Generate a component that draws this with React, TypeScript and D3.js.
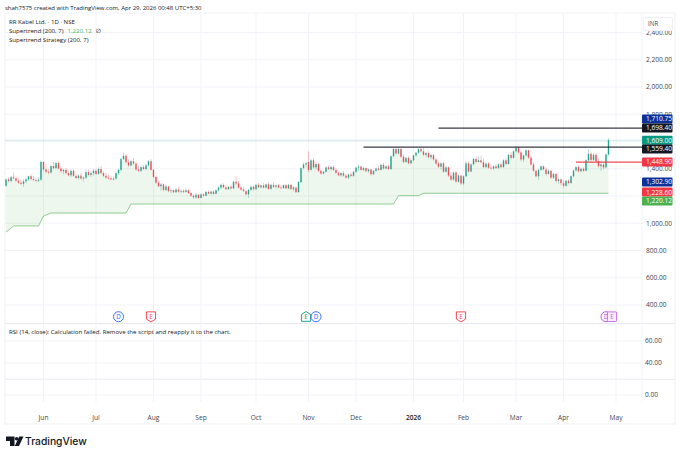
import React from "react";
import * as d3 from "d3";

type Bar = [number, number, number, number]; // open, high, low, close

const may: Bar[] = [
  [1275, 1330, 1265, 1322], [1322, 1340, 1300, 1310], [1310, 1345, 1300, 1338], [1338, 1372, 1325, 1330],
  [1330, 1348, 1305, 1312], [1312, 1330, 1290, 1298], [1298, 1320, 1280, 1290], [1290, 1322, 1268, 1308],
  [1308, 1335, 1295, 1322], [1322, 1350, 1310, 1345], [1345, 1360, 1315, 1325], [1325, 1350, 1310, 1318],
  [1318, 1335, 1300, 1312], [1312, 1340, 1300, 1320], [1320, 1458, 1310, 1450],
];
const jun: Bar[] = [
  [1450, 1455, 1385, 1395], [1395, 1430, 1365, 1378], [1378, 1400, 1360, 1372], [1372, 1425, 1365, 1420],
  [1420, 1450, 1395, 1405], [1405, 1450, 1400, 1442], [1442, 1455, 1395, 1402], [1402, 1420, 1370, 1382],
  [1382, 1400, 1360, 1392], [1392, 1405, 1360, 1368], [1368, 1385, 1345, 1352], [1352, 1395, 1340, 1385],
  [1385, 1395, 1340, 1348], [1348, 1365, 1325, 1332], [1332, 1360, 1320, 1350], [1350, 1370, 1320, 1328],
  [1328, 1345, 1305, 1335], [1335, 1395, 1325, 1375], [1375, 1395, 1345, 1355], [1355, 1385, 1340, 1368],
  [1368, 1400, 1350, 1385],
];
const jul: Bar[] = [
  [1385, 1400, 1355, 1362], [1362, 1410, 1355, 1398], [1398, 1420, 1360, 1368], [1368, 1380, 1340, 1348],
  [1348, 1370, 1325, 1335], [1335, 1355, 1320, 1330], [1330, 1350, 1315, 1322], [1322, 1345, 1312, 1328],
  [1328, 1375, 1320, 1368], [1368, 1400, 1355, 1392], [1392, 1480, 1385, 1472], [1472, 1518, 1465, 1495],
  [1495, 1510, 1440, 1448], [1448, 1470, 1415, 1425], [1425, 1465, 1415, 1455], [1455, 1480, 1430, 1438],
  [1438, 1455, 1385, 1395], [1395, 1420, 1375, 1385], [1385, 1425, 1375, 1412], [1412, 1430, 1390, 1398],
  [1398, 1435, 1390, 1425], [1425, 1465, 1415, 1455], [1455, 1470, 1385, 1392],
];
const aug: Bar[] = [
  [1392, 1400, 1330, 1340], [1340, 1350, 1290, 1298], [1298, 1312, 1265, 1272], [1272, 1295, 1240, 1285],
  [1285, 1292, 1235, 1245], [1245, 1280, 1235, 1270], [1270, 1275, 1228, 1236], [1236, 1250, 1220, 1242],
  [1242, 1250, 1222, 1228], [1228, 1258, 1222, 1248], [1248, 1268, 1225, 1232], [1232, 1250, 1220, 1238],
  [1238, 1252, 1222, 1230], [1230, 1255, 1225, 1242], [1242, 1250, 1215, 1222], [1222, 1228, 1195, 1202],
  [1202, 1212, 1182, 1190], [1190, 1222, 1178, 1210], [1210, 1215, 1178, 1186],
];
const sep: Bar[] = [
  [1186, 1220, 1182, 1212], [1212, 1222, 1195, 1202], [1202, 1238, 1198, 1230], [1230, 1240, 1212, 1218],
  [1218, 1240, 1210, 1232], [1232, 1240, 1210, 1216], [1216, 1250, 1212, 1242], [1242, 1270, 1235, 1262],
  [1262, 1290, 1250, 1282], [1282, 1292, 1258, 1264], [1264, 1280, 1245, 1250], [1250, 1272, 1244, 1268],
  [1268, 1285, 1250, 1256], [1256, 1312, 1252, 1305], [1305, 1345, 1280, 1292], [1292, 1310, 1255, 1262],
  [1262, 1275, 1240, 1248], [1248, 1268, 1230, 1236], [1236, 1246, 1205, 1212], [1212, 1252, 1185, 1245],
  [1245, 1275, 1238, 1268], [1268, 1278, 1240, 1250],
];
const oct: Bar[] = [
  [1250, 1290, 1245, 1282], [1282, 1295, 1258, 1264], [1264, 1285, 1252, 1278], [1278, 1295, 1255, 1262],
  [1262, 1290, 1255, 1285], [1285, 1298, 1245, 1252], [1252, 1290, 1248, 1282], [1282, 1302, 1260, 1268],
  [1268, 1285, 1255, 1278], [1278, 1288, 1258, 1262], [1262, 1278, 1252, 1258], [1258, 1285, 1255, 1280],
  [1280, 1290, 1252, 1256], [1256, 1288, 1250, 1282], [1282, 1290, 1245, 1250], [1250, 1272, 1235, 1262],
  [1262, 1270, 1222, 1228], [1228, 1310, 1225, 1302], [1302, 1412, 1295, 1405], [1405, 1448, 1395, 1432],
  [1432, 1450, 1410, 1442],
];
const nov: Bar[] = [
  [1450, 1528, 1375, 1392], [1392, 1470, 1385, 1462], [1462, 1478, 1400, 1410], [1410, 1450, 1395, 1435],
  [1435, 1445, 1375, 1385], [1385, 1395, 1355, 1365], [1365, 1385, 1358, 1378], [1378, 1418, 1372, 1410],
  [1410, 1425, 1390, 1398], [1398, 1422, 1385, 1412], [1412, 1425, 1385, 1392], [1392, 1402, 1362, 1370],
  [1370, 1378, 1345, 1352], [1352, 1375, 1340, 1368], [1368, 1385, 1342, 1350], [1350, 1362, 1328, 1335],
  [1335, 1365, 1325, 1358], [1358, 1375, 1340, 1348], [1348, 1385, 1340, 1378],
];
const dec: Bar[] = [
  [1378, 1415, 1370, 1408], [1408, 1432, 1385, 1415], [1415, 1425, 1385, 1392], [1392, 1418, 1380, 1405],
  [1405, 1412, 1375, 1382], [1382, 1402, 1370, 1395], [1395, 1400, 1350, 1360], [1360, 1392, 1352, 1385],
  [1385, 1410, 1375, 1402], [1402, 1422, 1385, 1392], [1392, 1435, 1388, 1428], [1428, 1445, 1395, 1402],
  [1402, 1425, 1398, 1418], [1418, 1430, 1390, 1398], [1398, 1500, 1392, 1492], [1492, 1552, 1485, 1545],
  [1545, 1555, 1505, 1512], [1512, 1552, 1505, 1545], [1545, 1550, 1480, 1488], [1488, 1505, 1440, 1450],
  [1450, 1488, 1442, 1480], [1480, 1492, 1432, 1440], [1440, 1470, 1432, 1462],
];
const jan: Bar[] = [
  [1462, 1505, 1455, 1498], [1498, 1525, 1490, 1518], [1518, 1550, 1510, 1544], [1544, 1556, 1520, 1528],
  [1528, 1555, 1495, 1502], [1502, 1525, 1485, 1515], [1515, 1528, 1478, 1485], [1485, 1510, 1470, 1500],
  [1500, 1510, 1460, 1468], [1468, 1482, 1430, 1438], [1438, 1455, 1408, 1415], [1415, 1448, 1395, 1440],
  [1440, 1450, 1370, 1378], [1378, 1420, 1372, 1410], [1410, 1418, 1340, 1350], [1350, 1375, 1310, 1320],
  [1320, 1380, 1312, 1372], [1372, 1385, 1298, 1305], [1305, 1360, 1298, 1350], [1350, 1358, 1280, 1292],
];
const feb: Bar[] = [
  [1292, 1352, 1280, 1345], [1345, 1455, 1338, 1440], [1440, 1452, 1370, 1380], [1380, 1440, 1375, 1432],
  [1432, 1480, 1425, 1472], [1472, 1490, 1440, 1450], [1450, 1490, 1445, 1462], [1462, 1495, 1440, 1448],
  [1448, 1472, 1405, 1412], [1412, 1445, 1405, 1438], [1438, 1450, 1400, 1408], [1408, 1430, 1395, 1402],
  [1402, 1425, 1392, 1418], [1418, 1432, 1398, 1405], [1405, 1440, 1400, 1432], [1432, 1448, 1405, 1412],
  [1412, 1470, 1408, 1462], [1462, 1478, 1425, 1435], [1435, 1510, 1430, 1502], [1502, 1522, 1470, 1480],
  [1480, 1535, 1475, 1528],
];
const mar: Bar[] = [
  [1528, 1565, 1520, 1555], [1555, 1562, 1510, 1520], [1520, 1530, 1455, 1468], [1468, 1505, 1448, 1498],
  [1498, 1545, 1490, 1535], [1535, 1540, 1472, 1482], [1482, 1495, 1425, 1432], [1432, 1445, 1378, 1385],
  [1385, 1395, 1335, 1345], [1345, 1400, 1320, 1392], [1392, 1425, 1385, 1418], [1418, 1425, 1388, 1395],
  [1395, 1410, 1350, 1362], [1362, 1395, 1355, 1385], [1385, 1392, 1325, 1335], [1335, 1370, 1325, 1362],
  [1362, 1368, 1300, 1310], [1310, 1330, 1290, 1322], [1322, 1328, 1280, 1295],
];
const apr: Bar[] = [
  [1295, 1312, 1262, 1275], [1275, 1320, 1268, 1312], [1312, 1325, 1285, 1295], [1295, 1352, 1290, 1345],
  [1345, 1395, 1338, 1388], [1388, 1422, 1380, 1412], [1412, 1428, 1372, 1382], [1382, 1408, 1375, 1400],
  [1400, 1412, 1378, 1385], [1385, 1470, 1380, 1462], [1462, 1545, 1455, 1510], [1510, 1522, 1455, 1465],
  [1465, 1515, 1458, 1502], [1502, 1515, 1445, 1455], [1455, 1475, 1410, 1418], [1418, 1462, 1385, 1432],
  [1432, 1450, 1395, 1410], [1410, 1510, 1405, 1505], [1505, 1625, 1498, 1609],
];
const bars: Bar[] = [...may, ...jun, ...jul, ...aug, ...sep, ...oct, ...nov, ...dec, ...jan, ...feb, ...mar, ...apr];

// bar index where each supertrend level begins
const supertrendIdx = [0, 3, 13, 15, 18, 48, 50, 155, 157, 165, 167, 241];
const supertrendVal = [935, 980, 980, 1053, 1075, 1075, 1141, 1141, 1202, 1202, 1220.12, 1220.12];

const monthLabels = ["Jun", "Jul", "Aug", "Sep", "Oct", "Nov", "Dec", "2026", "Feb", "Mar", "Apr", "May"];
const monthBars = [15, 36, 59, 78, 100, 121, 140, 163, 183, 204, 223, 244];

const priceTicks = [2400, 2200, 2000, 1800, 1600, 1400, 1200, 1000, 800, 600, 400];
const hiddenTicks = [1600, 1200];
const rsiStops = [60, 40, 20, 0];
const rsiLabels = [60, 40, 0];

const levelPrices = [1698.4, 1559.4, 1448.9];
const levelStart = [173, 143, 228];
const levelColor = ["#131722", "#131722", "#f23645"];

const tagValues = ["1,710.75", "1,698.40", "1,609.00", "1,559.40", "1,448.90", "1,302.90", "1,228.60", "1,220.12"];
const tagPrices = [1710.75, 1698.4, 1609, 1559.4, 1448.9, 1302.9, 1228.6, 1220.12];
const tagColors = ["#0c3299", "#131722", "#089981", "#131722", "#f23645", "#0c3299", "#f23645", "#4caf50"];
// the price scale pushes crowded tags apart
const tagNudge = [-7.4, 0, 0, 2, 0, 0, 0, 7.7];

const markerBars = [45, 58, 120, 124, 182, 240, 242.4];
const markerKinds = ["D", "E", "E", "D", "E", "D", "E"];
const markerColors = ["#2962ff", "#f23645", "#089981", "#2962ff", "#f23645", "#ab47e0", "#c65ce6"];

const W = 680;
const gridColor = "#f1f3f8";
const textColor = "#434651";
const font = "'Open Sans', 'DejaVu Sans', sans-serif";

const x = d3.scaleLinear().domain([0, 241]).range([6, 608.5]);
const y = d3.scaleLinear().domain([400, 2000]).range([305, 87]);
const yRsi = d3.scaleLinear().domain([0, 20, 40, 60]).range([395, 379, 363, 341]);

const stepAt = (i: number) => {
  const k = d3.bisectRight(supertrendIdx, i) - 1;
  const next = k + 1;
  if (next >= supertrendIdx.length) return supertrendVal[k];
  const t = (i - supertrendIdx[k]) / (supertrendIdx[next] - supertrendIdx[k]);
  return supertrendVal[k] + (supertrendVal[next] - supertrendVal[k]) * t;
};

const trendArea = d3
  .area<Bar>()
  .x((_, i) => x(i))
  .y0((_, i) => y(stepAt(i)))
  .y1((d) => y((d[0] + d[3]) / 2));

const trendLine = d3
  .line<number>()
  .x((_, k) => x(supertrendIdx[k]))
  .y((d) => y(d));

const App = () => {
  return (
    <svg
      width={W}
      height={456}
      viewBox="0 0 680 456"
      style={{ position: "absolute", left: 0, top: 0, background: "#fff" }}
      fontFamily={font}
    >
      <text x={5} y={10} fontSize={6} fill="#131722">
        shah7575 created with TradingView.com, Apr 29, 2026 00:48 UTC+5:30
      </text>

      {/* frame */}
      <rect x={5} y={13} width={670} height={411} fill="none" stroke="#f0f1f4" />
      <line x1={5} x2={675} y1={323.5} y2={323.5} stroke="#e6e8ee" />
      <line x1={5} x2={675} y1={379.5} y2={379.5} stroke="#eceef3" />
      <line x1={642} x2={642} y1={13} y2={402} stroke="#f4f5f8" />

      {/* grid */}
      {monthBars.map((b) => (
        <line key={b} x1={x(b)} x2={x(b)} y1={13} y2={402} stroke={gridColor} />
      ))}
      {priceTicks.map((t) => (
        <line key={t} x1={5} x2={642} y1={y(t)} y2={y(t)} stroke={gridColor} />
      ))}
      {rsiStops.map((t) => (
        <line key={t} x1={5} x2={642} y1={yRsi(t)} y2={yRsi(t)} stroke={gridColor} />
      ))}

      {/* supertrend */}
      <path d={trendArea(bars) ?? ""} fill="#4caf50" fillOpacity={0.1} />
      <path d={trendLine(supertrendVal) ?? ""} fill="none" stroke="#4caf50" strokeOpacity={0.6} strokeWidth={1} />

      {/* last price line */}
      <line x1={5} x2={642} y1={y(1609)} y2={y(1609)} stroke="#089981" strokeOpacity={0.2} />

      {/* candles */}
      {bars.map((d, i) => {
        const up = d[3] >= d[0];
        const c = up ? "#089981" : "#f23645";
        const top = y(Math.max(d[0], d[3]));
        const h = Math.max(0.8, Math.abs(y(d[0]) - y(d[3])));
        return (
          <g key={i}>
            <line x1={x(i)} x2={x(i)} y1={y(d[1])} y2={y(d[2])} stroke={c} strokeWidth={0.5} strokeOpacity={0.6} />
            <rect x={x(i) - 0.7} y={top} width={1.4} height={h} fill={c} fillOpacity={0.85} />
          </g>
        );
      })}

      {/* drawn levels */}
      {levelPrices.map((p, i) => (
        <line
          key={p}
          x1={x(levelStart[i])}
          x2={642}
          y1={y(p)}
          y2={y(p)}
          stroke={levelColor[i]}
          strokeWidth={1.2}
          strokeOpacity={i === 2 ? 0.9 : 0.85}
        />
      ))}

      {/* price axis */}
      {priceTicks
        .filter((t) => !hiddenTicks.includes(t))
        .map((t) => (
          <text key={t} x={646} y={y(t) + 2.4} fontSize={6.6} fill={textColor}>
            {d3.format(",.2f")(t)}
          </text>
        ))}
      {rsiLabels.map((t) => (
        <text key={t} x={645} y={yRsi(t) + 2.4} fontSize={6.6} fill={textColor}>
          {d3.format(".2f")(t)}
        </text>
      ))}
      <rect x={643.5} y={17.5} width={29} height={13} rx={1.5} fill="#fff" stroke="#eef0f4" />
      <text x={648} y={25.5} fontSize={6.2} fill={textColor}>
        INR
      </text>

      {tagValues.map((t, i) => {
        const cy = y(tagPrices[i]) + tagNudge[i];
        return (
          <g key={t}>
            <rect x={642} y={cy - 4.5} width={30.5} height={9} rx={1} fill={tagColors[i]} />
            <text x={646} y={cy + 2.4} fontSize={6.6} fill="#fff">
              {t}
            </text>
          </g>
        );
      })}

      {/* time axis */}
      {monthLabels.map((m, i) => (
        <text
          key={m}
          x={x(monthBars[i])}
          y={419.5}
          fontSize={6.6}
          textAnchor="middle"
          fill={m === "2026" ? "#131722" : textColor}
          fontWeight={m === "2026" ? 600 : 400}
        >
          {m}
        </text>
      ))}

      {/* event markers */}
      {markerBars.map((b, i) => {
        const c = markerColors[i];
        const kind = markerKinds[i];
        const cx = x(b);
        const cy = 316.7;
        return (
          <g key={i} transform={`translate(${cx},${cy})`}>
            {kind === "D" ? (
              <circle r={5} fill="#fff" stroke={c} strokeWidth={0.9} />
            ) : i === 2 ? (
              <path d="M-4.6,-2.2 L0,-5.2 L4.6,-2.2 L4.6,4.6 L-4.6,4.6 Z" fill="#fff" stroke={c} strokeWidth={0.9} />
            ) : i === 6 ? (
              <rect x={-4.6} y={-4.8} width={9.2} height={9.6} rx={1} fill="#fbeefd" stroke={c} strokeWidth={0.9} />
            ) : (
              <path d="M-4.6,-4.8 L4.6,-4.8 L4.6,2.4 L0,5.2 L-4.6,2.4 Z" fill="#fff" stroke={c} strokeWidth={0.9} />
            )}
            <text y={2.2} fontSize={6.2} textAnchor="middle" fill={c}>
              {kind}
            </text>
          </g>
        );
      })}

      {/* legend */}
      <g fontSize={6.1} fill="#131722">
        <text x={9} y={23.5}>RR Kabel Ltd. · 1D · NSE</text>
        <text x={9} y={32.5}>
          Supertrend (200, 7)
          <tspan dx={4} fill="#4caf50">1,220.12</tspan>
          <tspan dx={4}>∅</tspan>
        </text>
        <text x={9} y={41.5}>Supertrend Strategy (200, 7)</text>
        <text x={9} y={333.5}>RSI (14, close): Calculation failed. Remove the script and reapply it to the chart.</text>
      </g>

      {/* watermark */}
      <path d="M6,436.5 H14.5 V446 H10 V441 H6 Z" fill="#131722" />
      <circle cx={16.6} cy={438.7} r={1.8} fill="#131722" />
      <path d="M19.2,436.5 H23.5 L19,446 H14.8 Z" fill="#131722" />
      <text x={25} y={444.5} fontSize={10.3} fontWeight={500} fontFamily="Inter, 'Open Sans', sans-serif" fill="#131722">
        TradingView
      </text>
    </svg>
  );
};

export default App;
